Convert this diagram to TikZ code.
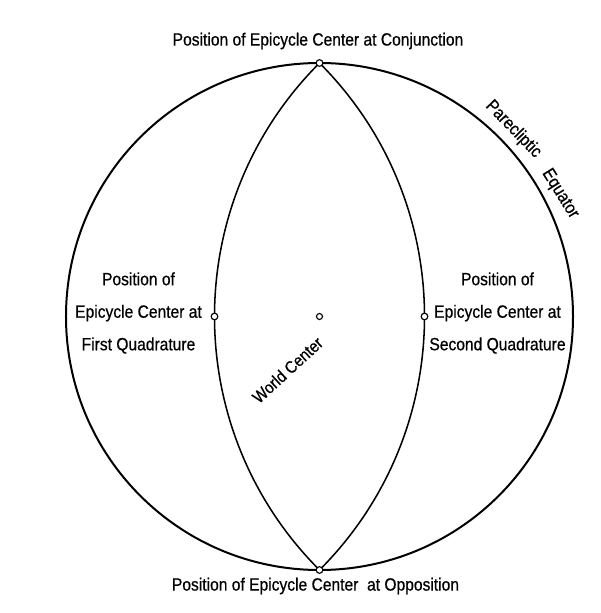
\documentclass[tikz,border=0pt]{standalone}
\usepackage{fontspec}
\setmainfont{Liberation Sans}[FakeStretch=0.88, FakeBold=0.6]
\usetikzlibrary{positioning}

\begin{document}
\begin{tikzpicture}[x=0.75pt,y=0.75pt,
    orb/.style={line width=1.5pt},
    lens/.style={line width=1.15pt},
    dot/.style={circle, draw, line width=0.85pt, fill=white, inner sep=0pt,
      minimum size=5pt},
    lbl/.style={font=\fontsize{13.3}{24.4}\selectfont, align=center, inner sep=0pt}]
\useasboundingbox (-319.5,-296.5) rectangle (280.5,316.5);
% --- parecliptic circle ---
\coordinate (W) at (0,0);
\draw[orb] (W) circle[radius=253.5];
% --- lens through conjunction, quadratures, opposition ---
\coordinate (conjP) at (0,253.5);
\coordinate (oppP) at (0,-253.5);
\draw[lens] (conjP) arc[start angle=135, end angle=225, radius=358.5];
\draw[lens] (conjP) arc[start angle=45, end angle=-45, radius=358.5];
\node[dot] (conj) at (conjP) {};
\node[dot] (opp) at (oppP) {};
\node[dot] (quadA) at (-105,0) {};
\node[dot] (quadB) at (105,0) {};
\node[dot, minimum size=4.5pt] (wc) at (W) {};

% --- labels ---
\node[lbl] (conjL) at (-1.5,275.5) {Position of Epicycle Center at Conjunction};
\node[lbl] (oppL) at (-4,-269.5) {Position of Epicycle Center\ \ at Opposition};
\node[lbl] (quadAL) at (-181,3.5) {Position of\\Epicycle Center at\\First Quadrature};
\node[lbl] (quadBL) at (178,3.5) {Position of\\Epicycle Center at\\Second Quadrature};
\node[lbl, font=\fontsize{12.8}{14}\selectfont, rotate=42.5] (wcL) at (-32,-53.5) {World Center};
\node[lbl, rotate=-46] (parL) at (44:269.5) {Parecliptic};
\node[lbl, rotate=-58] (eqL) at (27:270) {Equator};
\end{tikzpicture}
\end{document}
